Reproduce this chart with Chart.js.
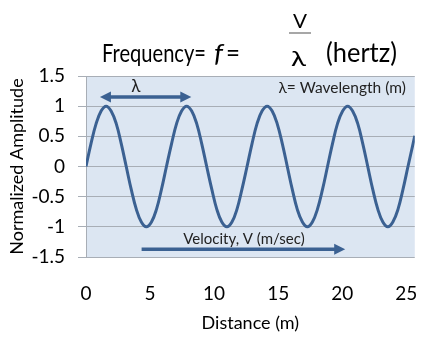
<!DOCTYPE html>
<html lang="en">
<head>
<meta charset="UTF-8">
<title>Frequency = V / wavelength</title>
<script src="https://cdn.jsdelivr.net/npm/chart.js"></script>
<style>
    html, body { margin: 0; padding: 0; background: #fff; }
    canvas { display: block; }
</style>
</head>
<body>
<canvas id="chart" width="443" height="340"></canvas>
<script>
// distance along the wave (m)
var distance = [0, 0.39, 0.79, 1.18, 1.57, 1.96, 2.36, 2.75, 3.14, 3.53, 3.93, 4.32, 4.71, 5.11, 5.50, 5.89,
    6.28, 6.68, 7.07, 7.46, 7.85, 8.25, 8.64, 9.03, 9.42, 9.82, 10.21, 10.60, 11.00, 11.39, 11.78, 12.17,
    12.57, 12.96, 13.35, 13.74, 14.14, 14.53, 14.92, 15.32, 15.71, 16.10, 16.49, 16.89, 17.28, 17.67, 18.06, 18.46,
    18.85, 19.24, 19.63, 20.03, 20.42, 20.81, 21.21, 21.60, 21.99, 22.38, 22.78, 23.17, 23.56, 23.95, 24.35, 24.74,
    25.13, 25.53, 25.66];

// normalized amplitude read at each distance
var amplitude = [0, 0.38, 0.71, 0.92, 1, 0.92, 0.71, 0.38, 0, -0.38, -0.71, -0.92, -1, -0.92, -0.71, -0.38,
    0, 0.38, 0.71, 0.92, 1, 0.92, 0.71, 0.38, 0, -0.38, -0.71, -0.92, -1, -0.92, -0.71, -0.38,
    0, 0.38, 0.71, 0.92, 1, 0.92, 0.71, 0.38, 0, -0.38, -0.71, -0.92, -1, -0.92, -0.71, -0.38,
    0, 0.38, 0.71, 0.92, 1, 0.92, 0.71, 0.38, 0, -0.38, -0.71, -0.92, -1, -0.92, -0.71, -0.38,
    0, 0.38, 0.51];

var xTicks = [0, 5, 10, 15, 20, 25];
var yTicks = [-1.5, -1, -0.5, 0, 0.5, 1, 1.5];
var yTickLabels = ['-1.5', '-1', '-0.5', '0', '0.5', '1', '1.5'];

var waveColor = '#3b6192';
var gridColor = '#a8aeb6';

// arrows and notes, in data units
var notes = {
    lambdaArrow: { from: 1.09, to: 8.22, y: 1.15 },
    lambdaLabel: { x: 3.88, y: 1.33, text: 'λ' },
    wavelength: { x: 24.96, y: 1.30, text: 'λ= Wavelength (m)' },
    velocityArrow: { from: 4.34, to: 20.23, y: -1.37 },
    velocityLabel: { x: 12.33, y: -1.20, text: 'Velocity, V (m/sec)' }
};

function arrowHead(ctx, x, y, dir) {
    ctx.beginPath();
    ctx.moveTo(x, y);
    ctx.lineTo(x - dir * 11, y - 5.5);
    ctx.lineTo(x - dir * 11, y + 5.5);
    ctx.closePath();
    ctx.fill();
}

function fitText(ctx, text, style, size, x0, x1, baseline) {
    ctx.save();
    ctx.font = style + ' ' + size + 'px Lato';
    var w = ctx.measureText(text).width;
    ctx.translate(x0, baseline);
    ctx.scale((x1 - x0) / w, 1);
    ctx.textAlign = 'left';
    ctx.textBaseline = 'alphabetic';
    ctx.fillText(text, 0, 0);
    ctx.restore();
}

var plotBackground = {
    id: 'plotBackground',
    beforeDraw: function(chart) {
        var a = chart.chartArea, ctx = chart.ctx;
        ctx.save();
        ctx.fillStyle = '#dce6f2';
        ctx.fillRect(a.left, a.top, a.right - a.left, a.bottom - a.top);
        ctx.restore();
    }
};

var titleAndNotes = {
    id: 'titleAndNotes',
    afterDraw: function(chart) {
        var ctx = chart.ctx;
        var xs = chart.scales.x, ys = chart.scales.y;

        // title: Frequency= f= V/λ (hertz)
        ctx.save();
        ctx.fillStyle = '#000';
        fitText(ctx, 'Frequency=', '', 25, 102, 206, 62);
        fitText(ctx, 'f', 'italic', 25, 214, 223, 62);
        fitText(ctx, '=', '', 25, 226, 240, 62);
        fitText(ctx, 'V', '', 20, 293, 307, 28);
        fitText(ctx, 'λ', '', 21, 291, 306, 66);
        fitText(ctx, '(hertz)', '', 26, 326, 397, 62);
        ctx.strokeStyle = '#8a8a8a';
        ctx.lineWidth = 1.5;
        ctx.beginPath();
        ctx.moveTo(289, 33);
        ctx.lineTo(311, 33);
        ctx.stroke();
        ctx.restore();

        // arrows
        ctx.save();
        ctx.strokeStyle = waveColor;
        ctx.fillStyle = waveColor;
        ctx.lineWidth = 3.5;

        var la = notes.lambdaArrow;
        var x1 = xs.getPixelForValue(la.from), x2 = xs.getPixelForValue(la.to), y = ys.getPixelForValue(la.y);
        ctx.beginPath();
        ctx.moveTo(x1 + 8, y);
        ctx.lineTo(x2 - 8, y);
        ctx.stroke();
        arrowHead(ctx, x1, y, -1);
        arrowHead(ctx, x2, y, 1);

        var va = notes.velocityArrow;
        x1 = xs.getPixelForValue(va.from);
        x2 = xs.getPixelForValue(va.to);
        y = ys.getPixelForValue(va.y);
        ctx.beginPath();
        ctx.moveTo(x1, y);
        ctx.lineTo(x2 - 8, y);
        ctx.stroke();
        arrowHead(ctx, x2, y, 1);
        ctx.restore();

        // labels
        ctx.save();
        ctx.fillStyle = '#222';
        ctx.textBaseline = 'middle';
        ctx.font = '17px Lato';
        ctx.textAlign = 'center';
        ctx.fillText(notes.lambdaLabel.text, xs.getPixelForValue(notes.lambdaLabel.x), ys.getPixelForValue(notes.lambdaLabel.y));
        ctx.font = '15.5px Lato';
        ctx.textAlign = 'right';
        ctx.fillText(notes.wavelength.text, xs.getPixelForValue(notes.wavelength.x), ys.getPixelForValue(notes.wavelength.y));
        ctx.font = '15px Lato';
        ctx.textAlign = 'center';
        ctx.fillText(notes.velocityLabel.text, xs.getPixelForValue(notes.velocityLabel.x), ys.getPixelForValue(notes.velocityLabel.y));
        ctx.restore();
    }
};

var points = distance.map(function(d, i) { return { x: d, y: amplitude[i] }; });

new Chart(document.getElementById('chart').getContext('2d'), {
    type: 'line',
    data: {
        datasets: [{
            data: points,
            borderColor: waveColor,
            borderWidth: 3,
            pointRadius: 0,
            fill: false,
            tension: 0.4
        }]
    },
    options: {
        responsive: false,
        animation: false,
        layout: { padding: { top: 76, right: 26, left: 0, bottom: 0 } },
        plugins: {
            legend: { display: false },
            tooltip: { enabled: false }
        },
        scales: {
            x: {
                type: 'linear',
                min: 0,
                max: 25.66,
                afterBuildTicks: function(scale) {
                    scale.ticks = xTicks.map(function(v) { return { value: v }; });
                },
                afterFit: function(scale) { scale.height = 83; },
                grid: { display: false, drawTicks: false },
                border: { display: false },
                ticks: {
                    padding: 25,
                    color: '#000',
                    font: { family: 'Lato', size: 19 },
                    maxRotation: 0
                },
                title: {
                    display: true,
                    text: 'Distance (m)',
                    color: '#000',
                    font: { family: 'Lato', size: 18 },
                    padding: { top: 0, bottom: 6 }
                }
            },
            y: {
                min: -1.5,
                max: 1.5,
                afterBuildTicks: function(scale) {
                    scale.ticks = yTicks.map(function(v) { return { value: v }; });
                },
                afterFit: function(scale) { scale.width = 86; },
                grid: { color: gridColor, lineWidth: 1, tickLength: 8 },
                border: { color: gridColor },
                ticks: {
                    padding: 13,
                    color: '#000',
                    font: { family: 'Lato', size: 19 },
                    callback: function(value, index) { return yTickLabels[index]; }
                },
                title: {
                    display: true,
                    text: 'Normalized Amplitude',
                    color: '#000',
                    font: { family: 'Lato', size: 18 },
                    padding: { top: 6, bottom: 0 }
                }
            }
        }
    },
    plugins: [plotBackground, titleAndNotes]
});
</script>
</body>
</html>
